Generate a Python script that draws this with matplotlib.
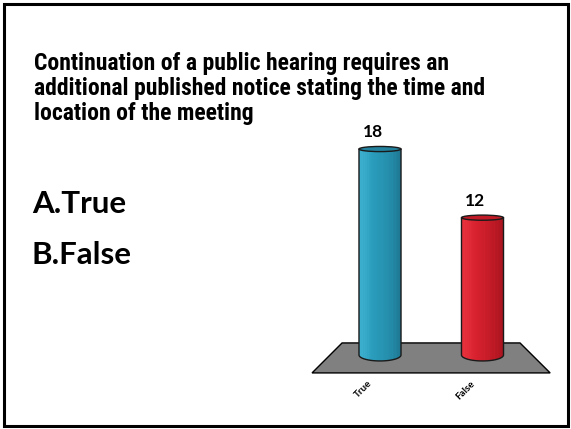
import numpy as np
import matplotlib
matplotlib.use("Agg")
import matplotlib.pyplot as plt
from matplotlib import font_manager
from matplotlib.patches import Rectangle, Ellipse, Polygon, PathPatch
from matplotlib.path import Path
from matplotlib.colors import LinearSegmentedColormap

# Poll results
categories = ["True", "False"]
votes = [18, 12]
answer_options = ["A.True", "B.False"]
question = ("Continuation of a public hearing requires an\n"
            "additional published notice stating the time and\n"
            "location of the meeting")

bar_shades = [
    ["#3db0d0", "#2a9cbb", "#2590ae", "#1f7590"],   # blue cylinder
    ["#e8333e", "#d92230", "#c41c28", "#a8141e"],   # red cylinder
]
cap_colors = ["#23829d", "#c01a26"]

# pick a narrow bold face for the headline if one is installed
installed = {f.name for f in font_manager.fontManager.ttflist}
narrow = [n for n in ("Liberation Sans Narrow", "DejaVu Sans Condensed",
                      "Roboto Condensed", "Open Sans Condensed")
          if n in installed]
title_font = (narrow[:1] or ["Roboto"]) + ["DejaVu Sans"]
body_font = ["Lato", "DejaVu Sans"]

W, H = 571, 429
fig = plt.figure(figsize=(W / 100, H / 100), dpi=100)

# slide frame
frame = fig.add_axes([0, 0, 1, 1])
frame.set_xlim(0, W)
frame.set_ylim(H, 0)
frame.axis("off")
frame.add_patch(Rectangle((3.5, 3.5), W - 7, H - 7, fill=False, lw=2.2,
                          edgecolor="black"))

fig.text(34 / W, 1 - 52 / H, question, ha="left", va="top", fontsize=17,
         fontweight="bold", family=title_font, linespacing=1.1, color="black")

for i, opt in enumerate(answer_options):
    fig.text(32 / W, 1 - (204 + 51 * i) / H, opt, ha="left", va="center",
             fontsize=22.5, fontweight="bold", family=body_font,
             color="black")

# chart area
ax = fig.add_axes([298 / W, 34 / H, 266.5 / W, 280.3 / H])
ax.set_xlim(-0.8, 1.8)
ax.set_ylim(-3.5, 21)
ax.axis("off")

x = np.arange(len(categories))
bw = 0.41
cap_h = 0.45
base_h = 1.05

# floor
floor = Polygon([(-0.663, -1.57), (1.66, -1.57), (1.366, 1.05), (-0.37, 1.05)],
                closed=True, facecolor="#808080", edgecolor="black", lw=1.0,
                zorder=1)
ax.add_patch(floor)

for xi, v, shades, capc in zip(x, votes, bar_shades, cap_colors):
    left, right = xi - bw / 2, xi + bw / 2
    # body outline: rectangle with rounded bottom
    t = np.linspace(np.pi, 2 * np.pi, 40)
    bottom_pts = [(xi + bw / 2 * np.cos(a), base_h / 2 * np.sin(a)) for a in t]
    verts = [(left, v)] + bottom_pts + [(right, v), (left, v)]
    codes = [Path.MOVETO] + [Path.LINETO] * (len(verts) - 2) + [Path.CLOSEPOLY]
    body = PathPatch(Path(verts, codes), facecolor="none", edgecolor="none",
                     zorder=2)
    ax.add_patch(body)
    cmap = LinearSegmentedColormap.from_list("cyl", shades)
    grad = np.linspace(0, 1, 200)
    # fine vertical streaks
    streak = np.zeros_like(grad)
    for s in (0.08, 0.13, 0.17, 0.22, 0.55, 0.78, 0.86):
        streak += 0.12 * np.exp(-((grad - s) / 0.008) ** 2)
    img = np.clip(grad - streak, 0, 1)[None, :]
    im = ax.imshow(img, cmap=cmap, vmin=0, vmax=1, aspect="auto",
                   extent=(left, right, -base_h / 2, v), zorder=2,
                   interpolation="bilinear")
    im.set_clip_path(body)
    outline = PathPatch(Path(verts, codes), facecolor="none",
                        edgecolor="#1a1a1a", lw=1.0, zorder=3)
    ax.add_patch(outline)
    ax.add_patch(Ellipse((xi, v), bw, cap_h, facecolor=capc,
                         edgecolor="#1a1a1a", lw=1.0, zorder=4))
    ax.text(xi - 0.07, v + 0.75, str(v), ha="center", va="bottom",
            fontsize=12.5, fontweight="bold", family=body_font, zorder=5)

for xi, lab in zip(x, categories):
    ax.text(xi - 0.12, -2.1, lab, rotation=45, ha="right", va="top",
            rotation_mode="anchor", fontsize=7, fontweight="bold",
            family=body_font)

fig.savefig("out.png", dpi=100)
